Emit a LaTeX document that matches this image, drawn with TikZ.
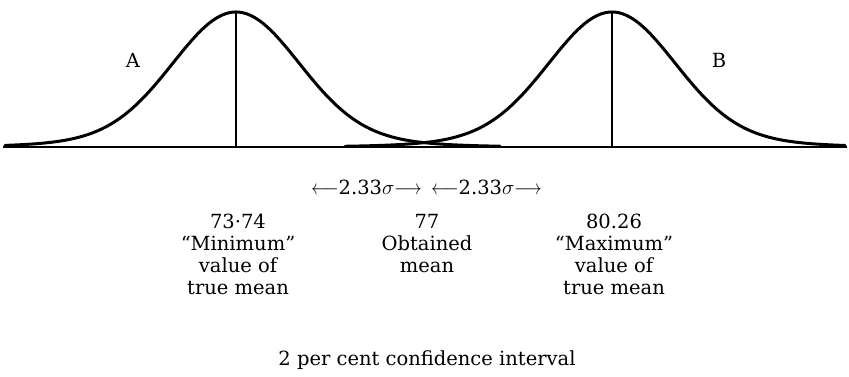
\documentclass[tikz,border=0pt]{standalone}
\usepackage{fontspec}
\usepackage{graphicx}
\setmainfont{DejaVu Serif}
\newcommand{\myla}{\scalebox{0.82}[1]{$\longleftarrow$}}
\newcommand{\myra}{\scalebox{0.82}[1]{$\longrightarrow$}}
\begin{document}
\begin{tikzpicture}[x=1pt,y=1pt,
  curve/.style={line width=3pt,line cap=round,line join=round},
  axisline/.style={line width=2.2pt},
  meanline/.style={line width=1.2pt},
  lbl/.style={font=\fontsize{19.5}{22}\selectfont,align=center,inner sep=0pt},
  letter/.style={font=\fontsize{19.5}{24}\selectfont,inner sep=0pt},
  declare function={gA(\x)=135*(0.9*exp(-((\x-236)/62)^2/2)+0.1*exp(-((\x-236)/110)^2/2));
                    gB(\x)=135*(0.9*exp(-((\x-612)/62)^2/2)+0.1*exp(-((\x-612)/110)^2/2));}]
\useasboundingbox (0,0) rectangle (849,377);
% baseline
\coordinate (bl) at (3,230);
\coordinate (br) at (847,230);
\draw[axisline] (bl) -- (br);
% curves
\draw[curve] plot[domain=5:500,samples=160] ({\x},{230+gA(\x)});
\draw[curve] plot[domain=345:845,samples=160] ({\x},{230+gB(\x)});
% mean lines
\coordinate (pA) at (236,365);
\coordinate (fA) at (236,230);
\coordinate (pB) at (612,365);
\coordinate (fB) at (612,230);
\draw[meanline] (fA) -- (pA);
\draw[meanline] (fB) -- (pB);
% letters
\node[letter] (A) at (133,317) {A};
\node[letter] (B) at (719,317) {B};
% sigma distances
\node[lbl] (s1) at (366.5,190) {\myla 2.33$\sigma$\myra};
\node[lbl] (s2) at (486.5,190) {\myla 2.33$\sigma$\myra};
% column labels
\node[lbl,anchor=north] (mn) at (238,163) {73·74\\“Minimum”\\value of\\true mean};
\node[lbl,anchor=north] (om) at (427,163) {77\\Obtained\\mean};
\node[lbl,anchor=north] (mx) at (614,163) {80.26\\“Maximum”\\value of\\true mean};
% caption
\node[lbl,anchor=base] (cap) at (427,11) {2 per cent confidence interval};
\end{tikzpicture}
\end{document}
